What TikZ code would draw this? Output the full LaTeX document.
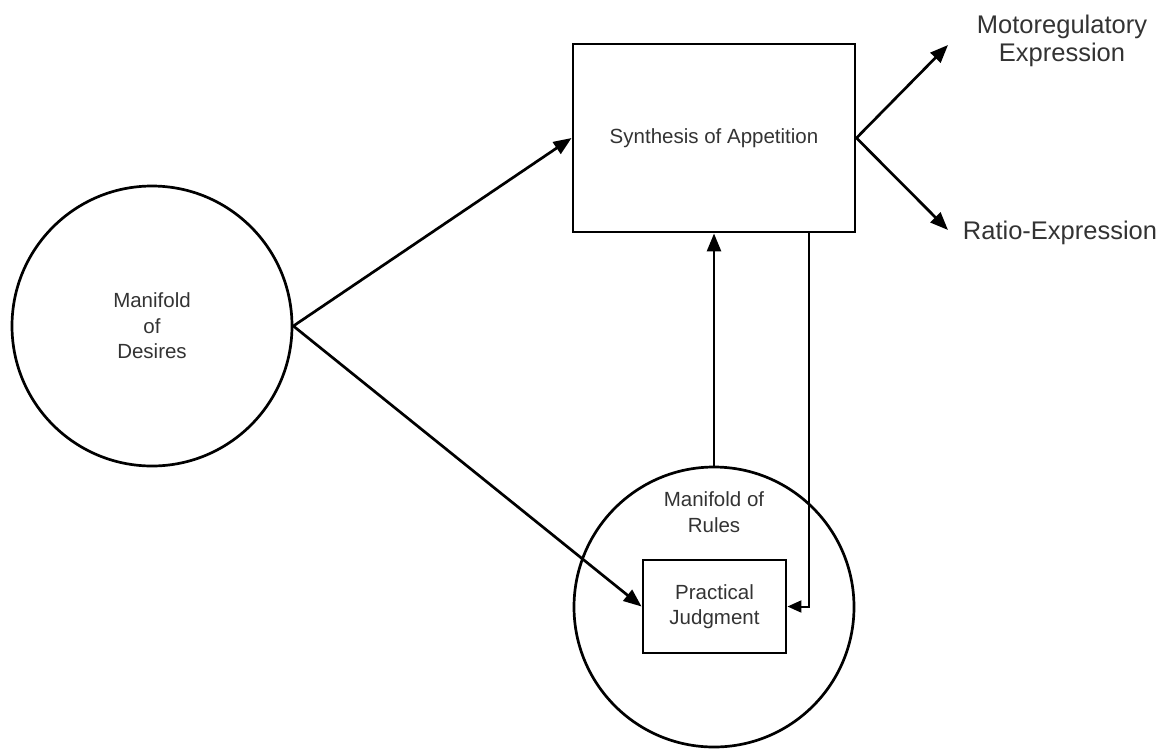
\documentclass[tikz,border=0pt]{standalone}
\usepackage{fontspec}
\setmainfont{Liberation Sans}
\usepackage{tikz}
\usetikzlibrary{arrows.meta, calc}
\definecolor{ink}{HTML}{333333}

\begin{document}
\begin{tikzpicture}[x=1pt, y=-1pt,
  every node/.style={text=ink},
  blob/.style={draw=black, circle, line width=2.7pt, minimum size=280pt, inner sep=0pt},
  box/.style={draw=black, rectangle, line width=2.9pt, inner sep=0pt, align=center},
  lbl/.style={font=\fontsize{20.5}{25.5}\selectfont, align=center},
  big/.style={font=\fontsize{25.5}{28}\selectfont, align=center, inner sep=0pt},
  flow/.style={-{Triangle[length=18pt, width=14pt]}, line width=2.7pt},
  back/.style={-{Triangle[length=14pt, width=12pt]}, line width=2pt}]
\useasboundingbox (0,0) rectangle (1166,750);

% the two manifolds
\node[blob, lbl] (desires) at (152,326) {Manifold\\of\\Desires};
\node[blob] (rules) at (714,607) {};
\node[lbl] (rulestxt) at (714,512) {Manifold of\\Rules};

% the two boxes
\node[box, lbl, minimum width=282pt, minimum height=188pt] (synth) at (714,138) {Synthesis of Appetition};
\node[box, lbl, minimum width=143pt, minimum height=93pt] (judg) at (714.5,606.5) {Practical\\Judgment};

% outputs on the right
\node[big] (motor) at (1062,41) {Motoregulatory\\Expression};
\node[big, anchor=base] (ratio) at (1060,239) {Ratio-Expression};
\coordinate (motortip) at (948,45);
\coordinate (ratiotip) at (948,230);
\coordinate (drop) at ($(synth.south east)+(-47,0)$);

\draw[flow] (desires.east) -- (synth.west);
\draw[flow] (desires.east) -- (judg.west);
\draw[flow] (rules.north) -- (synth.south);
\draw[flow] (synth.east) -- (motortip);
\draw[flow] (synth.east) -- (ratiotip);
\draw[back] (drop) |- (judg.east);
\end{tikzpicture}
\end{document}
